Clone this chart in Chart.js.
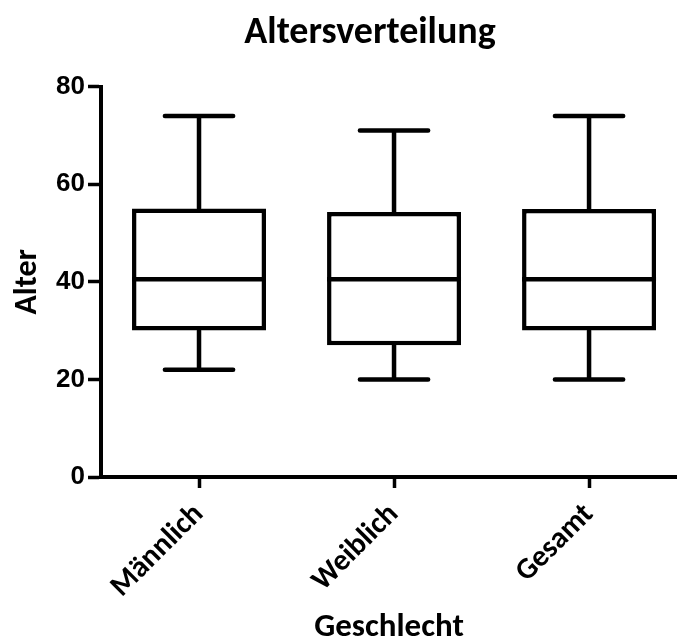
<!DOCTYPE html>
<html>
<head>
<meta charset="utf-8">
<script src="https://cdn.jsdelivr.net/npm/chart.js"></script>
<style>
  html, body { margin: 0; padding: 0; background: #fff; }
  #wrap { width: 677px; height: 637px; }
</style>
</head>
<body>
<div id="wrap"><canvas id="chart"></canvas></div>
<script>
// Altersverteilung je Gruppe
const gruppen = ['Männlich', 'Weiblich', 'Gesamt'];
const minimum = [22, 20, 20];
const quartil1 = [30, 27, 30];
const median = [40.5, 40.5, 40.5];
const quartil3 = [55, 54.3, 54.9];
const maximum = [74, 71, 74];
const yTicks = [0, 20, 40, 60, 80];

const schwarz = '#000';
const calibri = 'Carlito, Calibri, Lato, sans-serif';
const arial = '"Liberation Sans", Arial, sans-serif';

// Whisker unter die Box, Median darüber
const boxplotPlugin = {
  id: 'boxplot',
  afterLayout(chart) {
    // Titel wie im Original etwas nach rechts
    chart.titleBlock.left = 63;
  },
  beforeDatasetsDraw(chart) {
    const { ctx, scales: { x, y } } = chart;
    ctx.save();
    ctx.strokeStyle = schwarz;
    ctx.lineWidth = 4.5;
    ctx.lineCap = 'round';
    gruppen.forEach((g, i) => {
      const cx = x.getPixelForValue(i);
      const l = x.getPixelForValue(i - 0.175);
      const r = x.getPixelForValue(i + 0.175);
      const yMin = y.getPixelForValue(minimum[i]);
      const yMax = y.getPixelForValue(maximum[i]);
      ctx.beginPath();
      ctx.moveTo(cx, yMax);
      ctx.lineTo(cx, y.getPixelForValue(quartil3[i]));
      ctx.moveTo(cx, y.getPixelForValue(quartil1[i]));
      ctx.lineTo(cx, yMin);
      ctx.moveTo(l, yMax);
      ctx.lineTo(r, yMax);
      ctx.moveTo(l, yMin);
      ctx.lineTo(r, yMin);
      ctx.stroke();
    });
    ctx.restore();
  },
  afterDatasetsDraw(chart) {
    const { ctx, scales: { y } } = chart;
    const bars = chart.getDatasetMeta(0).data;
    ctx.save();
    ctx.strokeStyle = schwarz;
    ctx.lineWidth = 4.5;
    bars.forEach((bar, i) => {
      const ym = y.getPixelForValue(median[i]);
      ctx.beginPath();
      ctx.moveTo(bar.x - bar.width / 2, ym);
      ctx.lineTo(bar.x + bar.width / 2, ym);
      ctx.stroke();
    });
    ctx.restore();
  }
};

new Chart(document.getElementById('chart'), {
  type: 'bar',
  data: {
    datasets: [{
      label: 'Box',
      data: gruppen.map((g, i) => ({ x: i, y: [quartil1[i], quartil3[i]] })),
      backgroundColor: '#fff',
      borderColor: schwarz,
      borderWidth: 4.5,
      borderSkipped: false,
      barPercentage: 0.687,
      categoryPercentage: 1
    }]
  },
  options: {
    responsive: true,
    maintainAspectRatio: false,
    animation: false,
    layout: { padding: 0 },
    plugins: {
      legend: { display: false },
      tooltip: { enabled: false },
      title: {
        display: true,
        text: 'Altersverteilung',
        color: schwarz,
        font: { family: calibri, size: 38, weight: 'bold' },
        padding: { top: 11, bottom: 30 }
      }
    },
    scales: {
      x: {
        type: 'linear',
        min: -0.5026,
        max: 2.451,
        offset: false,
        afterFit(scale) { scale.height = 160; },
        afterBuildTicks(scale) {
          scale.ticks = gruppen.map((g, i) => ({ value: i }));
        },
        border: { display: true, color: schwarz, width: 4 },
        grid: { offset: false, drawOnChartArea: false, drawTicks: true, tickLength: 11, tickWidth: 3.5, tickColor: schwarz },
        ticks: {
          color: schwarz,
          minRotation: 45,
          maxRotation: 45,
          padding: 9,
          font: { family: calibri, size: 30, weight: 'bold' },
          callback: (v) => gruppen[v]
        },
        title: {
          display: true,
          text: 'Geschlecht',
          color: schwarz,
          font: { family: calibri, size: 33, weight: 'bold' },
          padding: { top: 0, bottom: -11 }
        }
      },
      y: {
        min: 0,
        max: 80,
        afterFit(scale) { scale.width = 101; },
        afterBuildTicks(scale) {
          scale.ticks = yTicks.map(v => ({ value: v }));
        },
        border: { display: true, color: schwarz, width: 4 },
        grid: { drawOnChartArea: false, drawTicks: true, tickLength: 13, tickWidth: 3.5, tickColor: schwarz },
        ticks: {
          color: schwarz,
          padding: 3,
          font: { family: arial, size: 26, weight: 'bold' }
        },
        title: {
          display: true,
          text: 'Alter',
          color: schwarz,
          font: { family: calibri, size: 32, weight: 'bold' },
          padding: { top: 9, bottom: 0 }
        }
      }
    }
  },
  plugins: [boxplotPlugin]
});
</script>
</body>
</html>
